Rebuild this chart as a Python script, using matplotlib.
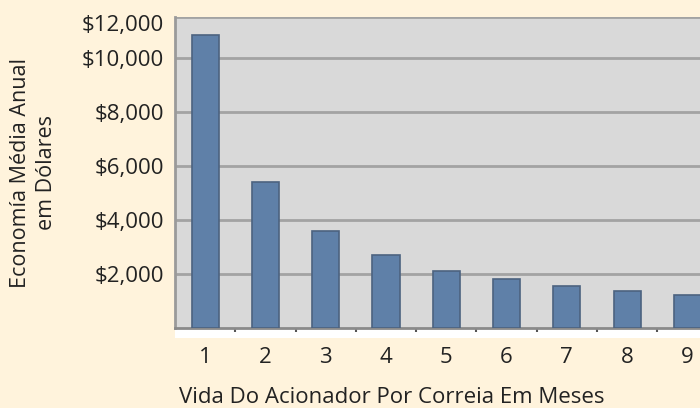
import matplotlib.pyplot as plt
from matplotlib.patches import Rectangle
from matplotlib.transforms import ScaledTranslation

# values
meses = [1, 2, 3, 4, 5, 6, 7, 8, 9]
economia = [10850, 5400, 3610, 2710, 2120, 1820, 1560, 1380, 1230]
ytick_vals = [2000, 4000, 6000, 8000, 10000]
ytick_labels = ["$2,000", "$4,000", "$6,000", "$8,000", "$10,000"]
ytop = 11520
top_label = "$12,000"

bg = "#FFF3DC"
plt.rcParams['font.family'] = ['Open Sans', 'DejaVu Sans']

fig = plt.figure(figsize=(7, 4.08), dpi=100, facecolor=bg)
ax = fig.add_axes([0.25, 0.196, 0.75, 0.7623])
ax.set_facecolor("#D9D9D9")

ax.bar(meses, economia, width=0.45, color="#5F80A8", edgecolor="#4C6380", linewidth=1.2, zorder=3)

ax.set_xlim(0.5, 9.21)
ax.set_ylim(0, ytop)

ax.set_yticks(ytick_vals + [ytop])
ax.set_yticklabels(ytick_labels + [top_label])
ax.grid(axis="y", color="#A3A3A3", linewidth=2, zorder=1)
ax.tick_params(axis="y", length=0, pad=8, labelsize=16, colors="#222222")

# the top label sits a little below the plot edge in the original
lbl = ax.get_yticklabels()[-1]
lbl.set_transform(lbl.get_transform() + ScaledTranslation(0, -4 / 72, fig.dpi_scale_trans))

ax.set_xticks(meses)
ax.set_xticks([m + 0.5 for m in meses[:-1]], minor=True)
ax.tick_params(axis="x", which="major", length=0, pad=14, labelsize=16, colors="#222222")
ax.tick_params(axis="x", which="minor", length=3, width=1.5, color="#555555", direction="out")

for s in ["top", "right"]:
    ax.spines[s].set_visible(False)
ax.spines["left"].set_color("#9A9A9A")
ax.spines["left"].set_linewidth(2)
ax.spines["bottom"].set_color("#8A8A8A")
ax.spines["bottom"].set_linewidth(2)

# white strip under the plot floor
ax.add_patch(Rectangle((0, -0.032), 1, 0.032, transform=ax.transAxes,
                       facecolor="white", edgecolor="none", clip_on=False, zorder=0))

ax.set_xlabel("Vida Do Acionador Por Correia Em Meses", fontsize=16, color="#222222")
ax.xaxis.set_label_coords(0.413, -0.188)
ax.set_ylabel("Economía Média Anual\nem Dólares", fontsize=15.5, color="#222222",
              linespacing=1.3, ha="center")
ax.yaxis.set_label_coords(-0.225, 0.5)

plt.savefig("out.png", dpi=100, facecolor=bg)
